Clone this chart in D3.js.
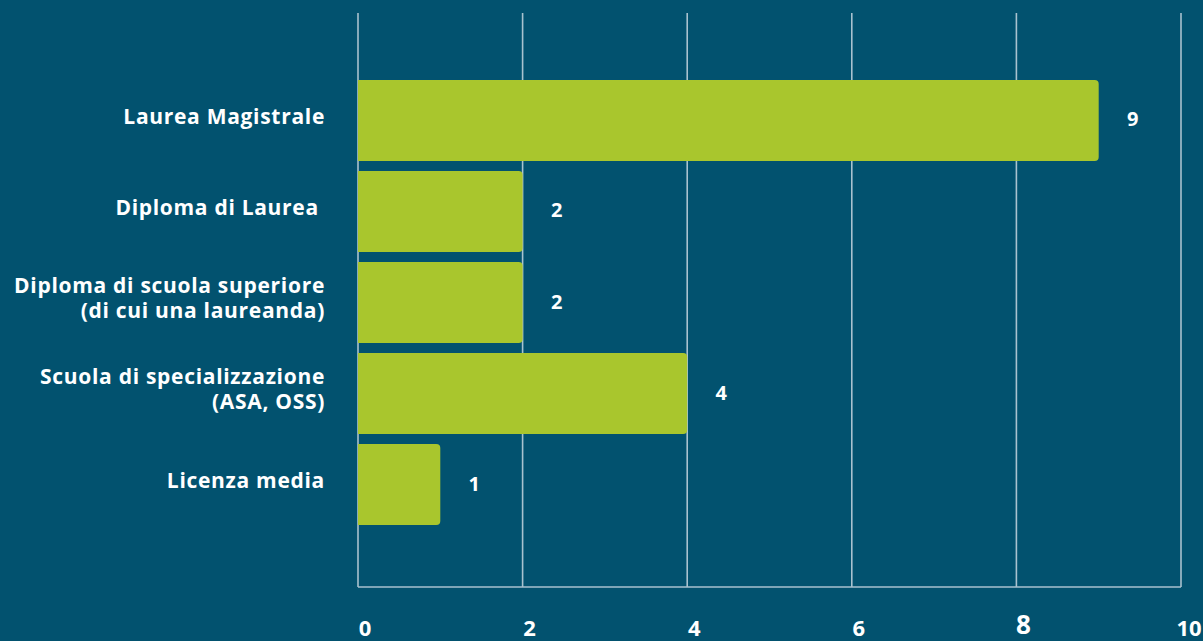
<!DOCTYPE html>
<html>
<head>
<meta charset="utf-8">
<script src="https://cdn.jsdelivr.net/npm/d3@7"></script>
<style>
  html, body { margin: 0; padding: 0; background: #02526f; overflow: hidden; }
  svg text { font-family: "Open Sans", Lato, sans-serif; font-weight: 700; fill: #ffffff; }
</style>
</head>
<body>
<script>
// dati
let categories = [
    ["Laurea Magistrale"],
    ["Diploma di Laurea "],
    ["Diploma di scuola superiore", "(di cui una laureanda)"],
    ["Scuola di specializzazione", "(ASA, OSS)"],
    ["Licenza media"]
]
let values = [9, 2, 2, 4, 1]
let ticks = [0, 2, 4, 6, 8, 10]

let w = 1203
let h = 641
let svg = d3.select("body").append("svg")
    .attr("width", w)
    .attr("height", h)

svg.append("rect")
    .attr("width", w)
    .attr("height", h)
    .attr("fill", "#02526f")

let xScale = d3.scaleLinear()
    .domain([0, 10])
    .range([358, 1181])
let yScale = d3.scaleBand()
    .domain(d3.range(categories.length))
    .range([80, 525])
    .paddingInner(0.11)
    .paddingOuter(0)

let gridTop = 13
let gridBottom = 587

// griglia
svg.selectAll("line.grid")
    .data(ticks)
    .enter()
    .append("line")
    .attr("class", "grid")
    .attr("x1", d=>xScale(d))
    .attr("x2", d=>xScale(d))
    .attr("y1", gridTop)
    .attr("y2", gridBottom)
    .attr("stroke", "#a9c2cf")
    .attr("stroke-width", 1.6)

svg.append("line")
    .attr("x1", xScale(0))
    .attr("x2", xScale(10))
    .attr("y1", gridBottom)
    .attr("y2", gridBottom)
    .attr("stroke", "#a9c2cf")
    .attr("stroke-width", 1.6)

// barre (angoli arrotondati a destra)
let r = 4
svg.selectAll("path.bar")
    .data(values)
    .enter()
    .append("path")
    .attr("class", "bar")
    .attr("fill", "#a9c62d")
    .attr("d", (d, i)=>{
        let x0 = xScale(0), x1 = xScale(d)
        let y0 = yScale(i), y1 = y0 + yScale.bandwidth()
        return `M${x0},${y0}H${x1-r}Q${x1},${y0} ${x1},${y0+r}V${y1-r}Q${x1},${y1} ${x1-r},${y1}H${x0}Z`
    })

// valori
svg.selectAll("text.val")
    .data(values)
    .enter()
    .append("text")
    .attr("class", "val")
    .attr("x", d=>xScale(d) + 34)
    .attr("y", (d, i)=>yScale(i) + yScale.bandwidth()/2 - 1)
    .attr("dy", "0.35em")
    .attr("text-anchor", "middle")
    .style("font-size", "20px")
    .text(d=>d)

// etichette categorie
let lineH = 25
categories.forEach((lines, i)=>{
    let cy = yScale(i) + yScale.bandwidth()/2 - 4
    let t = svg.append("text")
        .attr("text-anchor", "end")
        .attr("y", cy - (lines.length-1)*lineH/2)
        .style("font-size", "21px")
        .style("letter-spacing", "0.7px")
        .style("white-space", "pre")
    lines.forEach((l, k)=>{
        t.append("tspan")
            .attr("x", 325)
            .attr("dy", k==0 ? "0.35em" : lineH)
            .text(l)
    })
})

// etichette asse x
svg.selectAll("text.tick")
    .data(ticks)
    .enter()
    .append("text")
    .attr("class", "tick")
    .attr("x", d=>xScale(d) + (d==10 ? 8 : 7))
    .attr("y", d=>d==8 ? 634 : 636)
    .attr("text-anchor", "middle")
    .style("font-size", d=>d==8 ? "26px" : "22px")
    .text(d=>d)
</script>
</body>
</html>
